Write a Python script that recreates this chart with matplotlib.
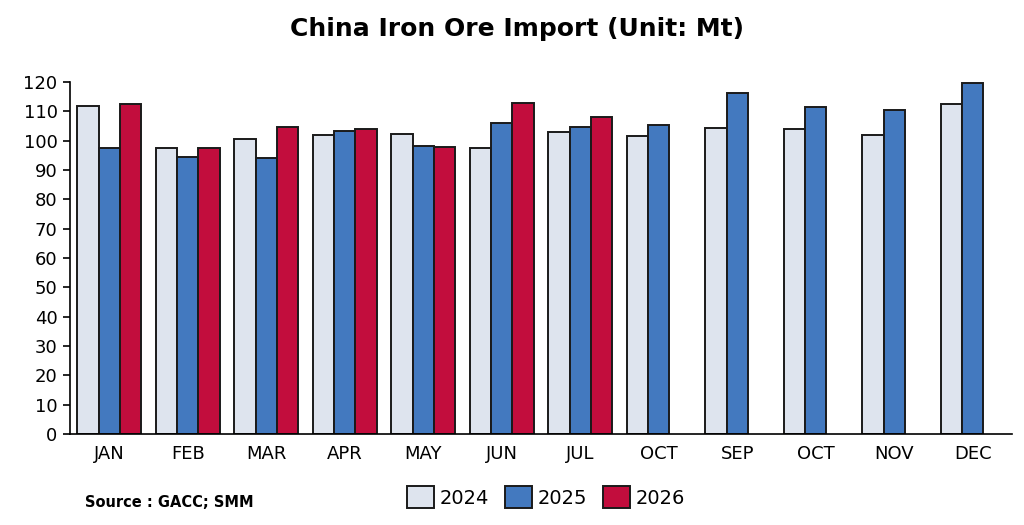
import matplotlib
matplotlib.use("Agg")
import matplotlib.pyplot as plt
import numpy as np

months = ["JAN", "FEB", "MAR", "APR", "MAY", "JUN", "JUL", "OCT", "SEP", "OCT", "NOV", "DEC"]
v2024 = [111.9, 97.6, 100.7, 101.9, 102.3, 97.6, 103.1, 101.5, 104.2, 104.0, 101.9, 112.5]
v2025 = [97.4, 94.3, 94.1, 103.2, 98.1, 106.1, 104.8, 105.2, 116.3, 111.4, 110.6, 119.6]
v2026 = [112.5, 97.5, 104.7, 104.0, 97.9, 112.7, 108.1, np.nan, np.nan, np.nan, np.nan, np.nan]
series_names = ["2024", "2025", "2026"]
colors = ["#DEE4EE", "#4379BF", "#C20D3D"]
yticks = list(range(0, 121, 10))

fig = plt.figure(figsize=(10.24, 5.25), dpi=100)
ax = fig.add_axes([0.0684, 0.1733, 0.9199, 0.6705])

x = np.arange(len(months))
w = 0.272
for i, (vals, name, c) in enumerate(zip([v2024, v2025, v2026], series_names, colors)):
    ax.bar(x + (i - 1) * w, vals, width=w, color=c, edgecolor="#1a1a1a", linewidth=1.4, label=name)

ax.set_xlim(-0.5, len(months) - 0.5)
ax.set_ylim(0, 120)
ax.set_yticks(yticks)
ax.set_xticks(x)
ax.set_xticklabels(months, fontsize=13)
ax.tick_params(axis="y", labelsize=13, length=5, width=1.2, direction="out", pad=4)
ax.tick_params(axis="x", length=0, pad=8)
for s in ["top", "right"]:
    ax.spines[s].set_visible(False)
ax.spines["left"].set_linewidth(1.2)
ax.spines["bottom"].set_linewidth(1.2)

fig.text(0.505, 0.945, "China Iron Ore Import (Unit: Mt)", ha="center", va="center",
         fontsize=18, fontweight="bold")
fig.text(0.083, 0.043, "Source : GACC; SMM", ha="left", va="center", fontsize=10.5, fontweight="bold")

leg = fig.legend(loc="center", bbox_to_anchor=(0.533, 0.053), ncol=3, frameon=False,
                 fontsize=14, handlelength=1.4, handleheight=1.4, handletextpad=0.3,
                 columnspacing=0.8)

fig.savefig("out.png", dpi=100)
